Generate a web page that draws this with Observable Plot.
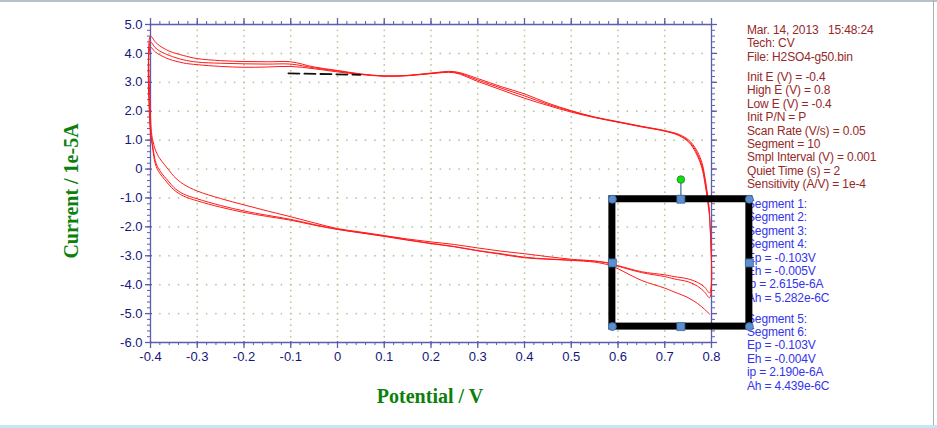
<!DOCTYPE html>
<html><head><meta charset="utf-8">
<script src="https://cdn.jsdelivr.net/npm/d3@7"></script>
<script src="https://cdn.jsdelivr.net/npm/@observablehq/plot@0.6"></script>
<style>
body{margin:0;background:#fff;}
#wrap{position:relative;width:937px;height:428px;overflow:hidden;background:#fff;font-family:"Liberation Sans",Arial,sans-serif;}
.info{position:absolute;left:747px;font-size:12px;line-height:13.4px;white-space:pre;letter-spacing:-0.15px;z-index:0;}
.red{color:#962828;}
.blue{color:#3434ec;}
#chart{position:absolute;left:0;top:0;z-index:1;}
.axlab{position:absolute;font-family:"Liberation Serif","Times New Roman",serif;font-weight:bold;font-size:20px;color:#0b800b;white-space:nowrap;z-index:2;}
.frame{position:absolute;z-index:3;}
</style></head>
<body>
<div id="wrap">
  <div class="info red" id="infoHead" style="top:24px"></div>
  <div class="info red" id="infoParams" style="top:71px"></div>
  <div class="info blue" id="infoSegA" style="top:198px"></div>
  <div class="info blue" id="infoSegB" style="top:312.5px"></div>
  <div class="axlab" id="ylab" style="left:71px;top:191px;transform:translate(-50%,-50%) rotate(-90deg);"></div>
  <div class="axlab" id="xlab" style="left:430px;top:396px;transform:translate(-50%,-50%);"></div>
  <div id="chart"></div>
  <div class="frame" style="left:0;top:0;width:937px;height:2px;background:#b4c2ca;"></div>
  <div class="frame" style="left:932.5px;top:0;width:1.5px;height:425px;background:#a8b0b8;"></div>
  <div class="frame" style="left:0;top:425px;width:937px;height:3px;background:#c5e6f5;"></div>
</div>
<script>
// ---------- data ----------
const xTickLabels = ["-0.4","-0.3","-0.2","-0.1","0","0.1","0.2","0.3","0.4","0.5","0.6","0.7","0.8"];
const yTickLabels = ["-6.0","-5.0","-4.0","-3.0","-2.0","-1.0","0","1.0","2.0","3.0","4.0","5.0"];
const xMajor = [-0.4,-0.3,-0.2,-0.1,0,0.1,0.2,0.3,0.4,0.5,0.6,0.7,0.8];
const yMajor = [-6,-5,-4,-3,-2,-1,0,1,2,3,4,5];

const fwdPotential = [-0.4,-0.39,-0.38,-0.36,-0.33,-0.3,-0.25,-0.2,-0.15,-0.1,-0.05,0,0.05,0.1,0.15,0.2,0.25,0.3,0.35,0.4,0.45,0.5,0.55,0.6,0.65,0.7,0.73,0.75,0.76,0.77,0.78,0.785,0.79,0.794,0.796];
const fwdCurrentHigh = [4.60,4.40,4.26,4.08,3.93,3.82,3.75,3.72,3.71,3.71,3.53,3.41,3.29,3.22,3.24,3.32,3.37,3.13,2.85,2.60,2.28,2.02,1.80,1.64,1.48,1.33,1.20,1.02,0.85,0.60,0.20,-0.20,-0.70,-1.20,-1.50];
const fwdCurrentMid  = [4.39,4.20,4.08,3.93,3.78,3.70,3.66,3.64,3.63,3.63,3.50,3.39,3.28,3.22,3.23,3.31,3.35,3.08,2.80,2.53,2.24,2.00,1.79,1.63,1.47,1.32,1.18,0.98,0.80,0.52,0.10,-0.30,-0.80,-1.30,-1.60];
const fwdCurrentLow  = [4.21,4.05,3.95,3.80,3.67,3.61,3.55,3.52,3.53,3.55,3.47,3.36,3.27,3.21,3.23,3.30,3.33,3.03,2.74,2.45,2.20,1.97,1.78,1.62,1.46,1.31,1.16,0.95,0.75,0.45,0.02,-0.40,-0.90,-1.40,-1.70];

const revPotential = [0.796,0.785,0.77,0.75,0.72,0.7,0.65,0.6,0.58,0.55,0.5,0.45,0.4,0.35,0.3,0.25,0.2,0.15,0.1,0.05,0,-0.05,-0.1,-0.15,-0.2,-0.25,-0.3,-0.33,-0.35,-0.36,-0.37,-0.38,-0.385,-0.39,-0.393,-0.396,-0.398,-0.4];
const revCurrentTop    = [-4.28,-4.08,-3.92,-3.80,-3.72,-3.66,-3.55,-3.34,-3.25,-3.18,-3.12,-3.03,-2.93,-2.84,-2.73,-2.61,-2.52,-2.42,-2.30,-2.18,-2.06,-1.86,-1.65,-1.45,-1.24,-1.02,-0.76,-0.52,-0.25,-0.05,0.15,0.36,0.50,0.68,0.85,1.05,1.30,1.85];
const revCurrentMiddle = [-4.45,-4.25,-4.05,-3.90,-3.80,-3.72,-3.58,-3.36,-3.26,-3.19,-3.15,-3.11,-3.05,-2.93,-2.82,-2.68,-2.57,-2.45,-2.32,-2.20,-2.08,-1.92,-1.74,-1.60,-1.45,-1.26,-1.03,-0.86,-0.64,-0.45,-0.27,-0.06,0.08,0.30,0.55,0.88,1.10,1.40];
const revCurrentBottom = [-5.02,-4.85,-4.65,-4.45,-4.25,-4.12,-3.85,-3.45,-3.32,-3.22,-3.16,-3.12,-3.07,-2.95,-2.83,-2.69,-2.58,-2.46,-2.33,-2.21,-2.09,-1.94,-1.77,-1.64,-1.50,-1.32,-1.10,-0.93,-0.72,-0.55,-0.36,-0.15,-0.02,0.20,0.45,0.80,1.00,1.20];

const dashPotential = [-0.105, 0.049];
const dashCurrent = [3.31, 3.26];

const boxPotential = [0.588, 0.881];
const boxCurrent = [-5.45, -1.045];
const knobCurrent = -0.363;

const infoHead = ["Mar. 14, 2013   15:48:24","Tech: CV","File: H2SO4-g50.bin"];
const infoParams = ["Init E (V) = -0.4","High E (V) = 0.8","Low E (V) = -0.4","Init P/N = P","Scan Rate (V/s) = 0.05","Segment = 10","Smpl Interval (V) = 0.001","Quiet Time (s) = 2","Sensitivity (A/V) = 1e-4"];
const infoSegA = ["Segment 1:","Segment 2:","Segment 3:","Segment 4:","Ep = -0.103V","Eh = -0.005V","ip = 2.615e-6A","Ah = 5.282e-6C"];
const infoSegB = ["Segment 5:","Segment 6:","Ep = -0.103V","Eh = -0.004V","ip = 2.190e-6A","Ah = 4.439e-6C"];
const xLabel = "Potential / V";
const yLabel = "Current / 1e-5A";

// ---------- text ----------
document.getElementById("infoHead").textContent = infoHead.join("\n");
document.getElementById("infoParams").textContent = infoParams.join("\n");
document.getElementById("infoSegA").textContent = infoSegA.join("\n");
document.getElementById("infoSegB").textContent = infoSegB.join("\n");
document.getElementById("xlab").textContent = xLabel;
document.getElementById("ylab").textContent = yLabel;

// ---------- build ----------
const W = 937, H = 428, mL = 150, mR = 226, mT = 24, mB = 86;
const xDom = [-0.4, 0.8], yDom = [-6, 5];
const pxX = (xDom[1]-xDom[0])/(W-mL-mR);
const pxY = (yDom[1]-yDom[0])/(H-mT-mB);

const path = [];
[[revPotential, revCurrentBottom],[fwdPotential, fwdCurrentLow],
 [revPotential, revCurrentMiddle],[fwdPotential, fwdCurrentMid],
 [revPotential, revCurrentTop],[fwdPotential, fwdCurrentHigh]]
 .forEach(([p,c]) => p.forEach((v,i) => path.push({potential:v, current:c[i]})));

const xMinor = d3.range(0, 61).map(i => -0.4 + i*0.02);
const yMinor = d3.range(0, 56).map(i => -6 + i*0.2);
const gridDots = [];
xMajor.slice(1,-1).forEach(x => yMinor.slice(1).forEach(y => gridDots.push({x,y})));
yMajor.slice(1,-1).forEach(y => xMinor.slice(1,-1).forEach(x => gridDots.push({x,y})));

const axisColor = "#5c5cb0";
const labColor = "#16167a";
const font = "Liberation Sans, Arial, sans-serif";
const dash = dashPotential.map((p,i)=>({p, c: dashCurrent[i]}));
const midX = (boxPotential[0]+boxPotential[1])/2;
const midY = (boxCurrent[0]+boxCurrent[1])/2;
const corners = [];
boxPotential.forEach(x => boxCurrent.forEach(y => corners.push({x,y})));
const mids = [{x:midX,y:boxCurrent[0]},{x:midX,y:boxCurrent[1]},{x:boxPotential[0],y:midY},{x:boxPotential[1],y:midY}];

const chart = Plot.plot({
  width: W, height: H,
  marginLeft: mL, marginRight: mR, marginTop: mT, marginBottom: mB,
  x: {domain: xDom, axis: null},
  y: {domain: yDom, axis: null},
  style: {background: "transparent", overflow: "visible"},
  marks: [
    Plot.dot(gridDots, {x:"x", y:"y", r:0.9, fill:"#b8c79a", stroke:"none"}),
    // frame
    Plot.ruleY([yDom[0], yDom[1]], {stroke: axisColor, strokeWidth: 1.3}),
    Plot.ruleX([xDom[0], xDom[1]], {stroke: axisColor, strokeWidth: 1.3}),
    // left ticks
    Plot.ruleY(yMinor, {y: d=>d, x1: ()=>xDom[0]-3*pxX, x2: ()=>xDom[0], stroke: axisColor}),
    Plot.ruleY(yMajor, {y: d=>d, x1: ()=>xDom[0]-5*pxX, x2: ()=>xDom[0]+2*pxX, stroke: axisColor, strokeWidth:1.3}),
    // right ticks
    Plot.ruleY(yMinor, {y: d=>d, x1: ()=>xDom[1], x2: ()=>xDom[1]+4*pxX, stroke: axisColor}),
    Plot.ruleY(yMajor, {y: d=>d, x1: ()=>xDom[1], x2: ()=>xDom[1]+6*pxX, stroke: axisColor, strokeWidth:1.3}),
    // top ticks
    Plot.ruleX(xMinor, {x: d=>d, y1: ()=>yDom[1], y2: ()=>yDom[1]+3*pxY, stroke: axisColor}),
    Plot.ruleX(xMajor, {x: d=>d, y1: ()=>yDom[1], y2: ()=>yDom[1]+6*pxY, stroke: axisColor, strokeWidth:1.3}),
    // bottom ticks
    Plot.ruleX(xMinor, {x: d=>d, y1: ()=>yDom[0], y2: ()=>yDom[0]-3*pxY, stroke: axisColor}),
    Plot.ruleX(xMajor, {x: d=>d, y1: ()=>yDom[0]+1*pxY, y2: ()=>yDom[0]-6*pxY, stroke: axisColor, strokeWidth:1.3}),
    // tick labels
    Plot.text(yMajor, {x: ()=>xDom[0], y: d=>d, text: (d,i)=>yTickLabels[i], textAnchor:"end", dx:-8, fill: labColor, fontSize:13, fontFamily: font}),
    Plot.text(xMajor, {x: d=>d, y: ()=>yDom[0], text: (d,i)=>xTickLabels[i], dy:14, fill: labColor, fontSize:13, fontFamily: font}),
    // curves
    Plot.line(path, {x:"potential", y:"current", stroke:"#ff1a1a", strokeWidth:1, curve:"catmull-rom"}),
    Plot.line(dash, {x:"p", y:"c", stroke:"#111", strokeWidth:1.8, strokeDasharray:"11,5"}),
    // selection box
    Plot.rect([0], {x1: ()=>boxPotential[0], x2: ()=>boxPotential[1], y1: ()=>boxCurrent[0], y2: ()=>boxCurrent[1], fill:"none", stroke:"#000", strokeWidth:7}),
    Plot.link([0], {x1: ()=>midX, x2: ()=>midX, y1: ()=>knobCurrent, y2: ()=>boxCurrent[1], stroke:"#3d6690", strokeWidth:1.2}),
    Plot.dot(corners, {x:"x", y:"y", r:4, fill:"#5b8fd0", stroke:"#3d6a9e", strokeWidth:0.8}),
    Plot.dot(mids, {x:"x", y:"y", r:4.5, symbol:"square", fill:"#5b8fd0", stroke:"#3d6a9e", strokeWidth:0.8}),
    Plot.dot([0], {x: ()=>midX, y: ()=>knobCurrent, r:3.8, fill:"#10e010", stroke:"#2b7a2b", strokeWidth:0.8})
  ]
});
document.getElementById("chart").appendChild(chart);
</script>
</body></html>
